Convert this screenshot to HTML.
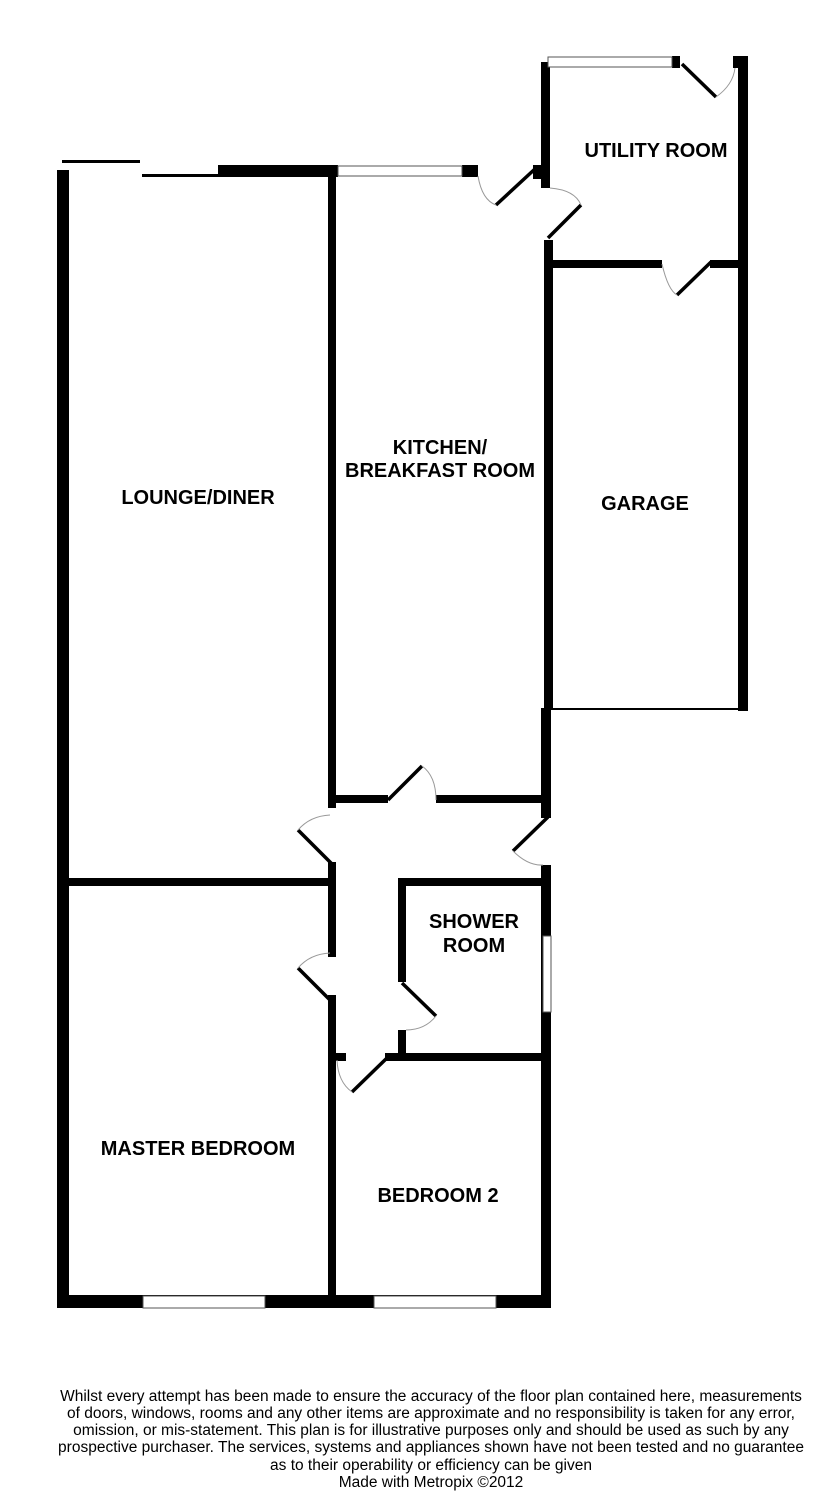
<!DOCTYPE html>
<html><head><meta charset="utf-8"><style>
html,body{margin:0;padding:0;background:#fff;width:824px;height:1500px;overflow:hidden}
svg{display:block}
.t{font-family:"Liberation Sans",Arial,sans-serif;font-weight:bold;font-size:20px;fill:#000;text-anchor:middle}
.f{font-family:"Liberation Sans",Arial,sans-serif;font-size:15.5px;fill:#000;text-anchor:middle}
</style></head><body>
<svg width="824" height="1500" viewBox="0 0 824 1500" xmlns="http://www.w3.org/2000/svg">
<g fill="#000">
<rect x="57" y="170" width="12" height="1138"/>
<rect x="62" y="160" width="78" height="3"/>
<rect x="142" y="174" width="78" height="3"/>
<rect x="218" y="165" width="120" height="12"/>
<rect x="462" y="165" width="16" height="12"/>
<rect x="328" y="170" width="8" height="638"/>
<rect x="328" y="862" width="8" height="95"/>
<rect x="328" y="995" width="8" height="305"/>
<rect x="541" y="62" width="9" height="126"/>
<rect x="533" y="165" width="17" height="14"/>
<rect x="544" y="240" width="9" height="470"/>
<rect x="672" y="56" width="8" height="12"/>
<rect x="733" y="56" width="15" height="12"/>
<rect x="738" y="56" width="10" height="655"/>
<rect x="548" y="260" width="114" height="8"/>
<rect x="710" y="260" width="32" height="8"/>
<rect x="550" y="708" width="190" height="2"/>
<rect x="541" y="708" width="10" height="110"/>
<rect x="336" y="795" width="52" height="8"/>
<rect x="436" y="795" width="110" height="8"/>
<rect x="541" y="865" width="10" height="443"/>
<rect x="68" y="878" width="262" height="8"/>
<rect x="398" y="878" width="147" height="8"/>
<rect x="398" y="878" width="8" height="104"/>
<rect x="398" y="1030" width="8" height="28"/>
<rect x="385" y="1053" width="160" height="8"/>
<rect x="336" y="1053" width="10" height="8"/>
<rect x="57" y="1295" width="494" height="13"/>
</g>
<g fill="#fff" stroke="#555" stroke-width="1">
<rect x="338" y="166" width="124" height="10"/>
<rect x="548" y="57" width="124" height="10"/>
<rect x="543" y="936" width="8" height="76"/>
<rect x="143" y="1296" width="122" height="12"/>
<rect x="374" y="1296" width="122" height="12"/>
</g>
<g stroke="#000" stroke-width="3.5" stroke-linecap="butt">
<line x1="496" y1="205" x2="536" y2="168"/>
<line x1="548" y1="238" x2="581" y2="205"/>
<line x1="682" y1="64" x2="716" y2="97"/>
<line x1="677" y1="295" x2="711" y2="262"/>
<line x1="388" y1="800" x2="422" y2="766"/>
<line x1="298" y1="830" x2="332" y2="864"/>
<line x1="513" y1="851" x2="548" y2="817"/>
<line x1="298" y1="968" x2="332" y2="1002"/>
<line x1="402" y1="983" x2="436" y2="1016"/>
<line x1="352" y1="1092" x2="388" y2="1057"/>
</g>
<g fill="none" stroke="#999" stroke-width="1">
<path d="M478 176 Q482 200 496 205"/>
<path d="M550 188 Q575 190 581 205"/>
<path d="M716 97 Q733 85 735 68"/>
<path d="M662 264 Q668 290 677 295"/>
<path d="M422 766 Q436 776 436 800"/>
<path d="M298 830 Q310 816 330 815"/>
<path d="M513 851 Q528 866 543 865"/>
<path d="M298 968 Q310 954 330 953"/>
<path d="M436 1016 Q425 1030 406 1030"/>
<path d="M337 1060 Q338 1082 352 1092"/>
</g>
<text class="t" x="198" y="504">LOUNGE/DINER</text>
<text class="t" x="440" y="454">KITCHEN/</text>
<text class="t" x="440" y="477">BREAKFAST ROOM</text>
<text class="t" x="645" y="510">GARAGE</text>
<text class="t" x="656" y="157">UTILITY ROOM</text>
<text class="t" x="474" y="928">SHOWER</text>
<text class="t" x="474" y="952">ROOM</text>
<text class="t" x="198" y="1155">MASTER BEDROOM</text>
<text class="t" x="438" y="1202">BEDROOM 2</text>
<text class="f" x="431" y="1401">Whilst every attempt has been made to ensure the accuracy of the floor plan contained here, measurements</text>
<text class="f" x="431" y="1418">of doors, windows, rooms and any other items are approximate and no responsibility is taken for any error,</text>
<text class="f" x="431" y="1435">omission, or mis-statement. This plan is for illustrative purposes only and should be used as such by any</text>
<text class="f" x="431" y="1452">prospective purchaser. The services, systems and appliances shown have not been tested and no guarantee</text>
<text class="f" x="431" y="1470">as to their operability or efficiency can be given</text>
<text class="f" x="431" y="1487">Made with Metropix ©2012</text>
</svg>
</body></html>
